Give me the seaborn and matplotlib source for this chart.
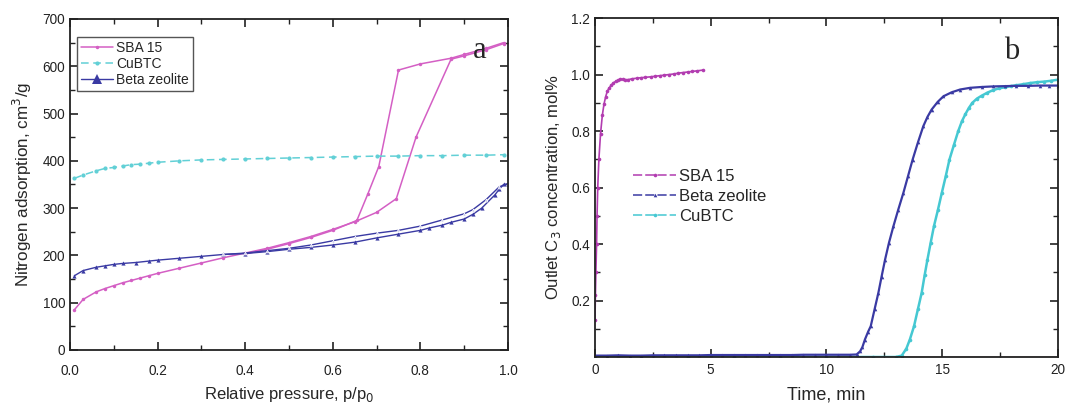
import numpy as np
import pandas as pd
import matplotlib
matplotlib.use("Agg")
import matplotlib.pyplot as plt
import seaborn as sns
from matplotlib.ticker import MultipleLocator, FixedLocator

# ---------------- Panel a: N2 isotherms ----------------
sba_ads_p = [0.01, 0.03, 0.06, 0.08, 0.10, 0.12, 0.14, 0.16, 0.18, 0.20, 0.25, 0.30, 0.35,
             0.40, 0.45, 0.50, 0.55, 0.60, 0.65, 0.70, 0.745, 0.79, 0.87, 0.90, 0.95, 0.99]
sba_ads_v = [85, 107, 123, 130, 136, 142, 147, 152, 157, 162, 173, 184, 195,
             205, 215, 227, 240, 255, 271, 291, 320, 450, 615, 622, 635, 648]
sba_des_p = [0.99, 0.95, 0.90, 0.87, 0.80, 0.75, 0.705, 0.68, 0.655, 0.60, 0.55, 0.50, 0.45, 0.40]
sba_des_v = [650, 638, 625, 617, 605, 592, 388, 330, 274, 253, 238, 225, 213, 203]

cubtc_p = [0.01, 0.03, 0.06, 0.08, 0.10, 0.12, 0.14, 0.16, 0.18, 0.20, 0.25, 0.30, 0.35,
           0.40, 0.45, 0.50, 0.55, 0.60, 0.65, 0.70, 0.75, 0.80, 0.85, 0.90, 0.95, 0.99]
cubtc_v = [363, 370, 379, 384, 386, 389, 392, 393, 395, 397, 400, 402, 403,
           404, 405, 406, 407, 408, 409, 410, 410, 411, 411, 412, 412, 413]

beta_ads_p = [0.01, 0.03, 0.06, 0.08, 0.10, 0.12, 0.15, 0.18, 0.20, 0.25, 0.30, 0.35, 0.40,
              0.45, 0.50, 0.55, 0.60, 0.65, 0.70, 0.75, 0.80, 0.82, 0.85, 0.87, 0.90, 0.92,
              0.94, 0.97, 0.98, 0.99, 1.00]
beta_ads_v = [157, 168, 175, 178, 181, 183, 185, 188, 190, 194, 198, 202, 204,
              208, 213, 217, 222, 228, 237, 245, 253, 258, 264, 270, 277, 287,
              300, 328, 340, 350, 350]
beta_des_p = [1.00, 0.98, 0.95, 0.92, 0.90, 0.85, 0.80, 0.75, 0.70, 0.65, 0.60, 0.55,
              0.50, 0.45, 0.40, 0.35]
beta_des_v = [352, 345, 318, 297, 288, 275, 262, 253, 247, 240, 231, 222,
              215, 210, 205, 202]

# ---------------- Panel b: breakthrough curves ----------------
sba_t = [0.0, 0.02, 0.04, 0.07, 0.09, 0.12, 0.17, 0.24, 0.32, 0.39, 0.46, 0.53, 0.6,
         0.7, 0.8, 0.9, 1.0, 1.08, 1.2, 1.3, 1.44, 1.6, 1.8, 2.0, 2.16, 2.4, 2.6, 2.8,
         3.0, 3.2, 3.4, 3.6, 3.8, 4.0, 4.2, 4.4, 4.68]
sba_c = [0.13, 0.22, 0.30, 0.40, 0.50, 0.60, 0.70, 0.79, 0.857, 0.895, 0.921, 0.94,
         0.951, 0.962, 0.971, 0.976, 0.980, 0.984, 0.983, 0.982, 0.982, 0.985, 0.987,
         0.989, 0.99, 0.992, 0.994, 0.996, 0.998, 1.0, 1.002, 1.005, 1.007, 1.009,
         1.011, 1.013, 1.016]

beta_t = [0.0, 0.5, 1.0, 1.5, 2.0, 2.5, 3.0, 3.5, 4.0, 4.5, 5.0, 5.5, 6.0, 6.5, 7.0,
          7.5, 8.0, 8.5, 9.0, 9.5, 10.0, 10.5, 11.0, 11.3, 11.45, 11.55, 11.66, 11.8,
          11.91, 12.08, 12.24, 12.38, 12.53, 12.7, 12.89, 13.1, 13.32, 13.52, 13.72,
          13.95, 14.18, 14.36, 14.54, 14.8, 15.05, 15.4, 15.77, 16.2, 16.7, 17.2, 17.7,
          18.2, 18.7, 19.2, 19.6, 20.0]
beta_c = [0.005, 0.005, 0.006, 0.005, 0.005, 0.006, 0.006, 0.006, 0.006, 0.006, 0.007,
          0.007, 0.007, 0.007, 0.007, 0.007, 0.007, 0.007, 0.008, 0.008, 0.008, 0.008,
          0.008, 0.009, 0.02, 0.035, 0.062, 0.09, 0.109, 0.17, 0.227, 0.285, 0.345,
          0.405, 0.463, 0.522, 0.581, 0.64, 0.699, 0.76, 0.817, 0.85, 0.876, 0.903,
          0.923, 0.937, 0.947, 0.953, 0.956, 0.958, 0.959, 0.96, 0.96, 0.961, 0.961,
          0.961]

cubtc_t = [0.0, 2.0, 4.0, 6.0, 8.0, 10.0, 12.0, 13.0, 13.25, 13.45, 13.6, 13.78, 13.95,
           14.11, 14.24, 14.36, 14.5, 14.64, 14.81, 14.98, 15.15, 15.31, 15.5, 15.69,
           15.85, 16.0, 16.15, 16.3, 16.5, 16.7, 16.95, 17.2, 17.45, 17.7, 17.95, 18.2,
           18.5, 18.8, 19.1, 19.4, 19.7, 20.0]
cubtc_c = [0.0, 0.0, 0.0, 0.0, 0.0, 0.0, 0.0, 0.0, 0.005, 0.03, 0.062, 0.109, 0.17,
           0.227, 0.29, 0.345, 0.405, 0.463, 0.52, 0.581, 0.64, 0.699, 0.75, 0.80,
           0.835, 0.86, 0.882, 0.90, 0.915, 0.925, 0.936, 0.945, 0.951, 0.955, 0.959,
           0.962, 0.966, 0.97, 0.973, 0.975, 0.978, 0.982]

base_t = [13.3, 20.0]
base_c = [0.0, 0.0]

# ---------------- Styling ----------------
sns.set_theme(style="ticks")
plt.rcParams['font.family'] = ['Liberation Sans', 'DejaVu Sans']
plt.rcParams['xtick.direction'] = 'in'
plt.rcParams['ytick.direction'] = 'in'
plt.rcParams['axes.linewidth'] = 1.3

PINK = '#d45fc4'
PURPLE = '#b23cb0'
NAVY = '#3a3aa3'
CYAN = '#45c8d2'
CYAN_L = '#62d0d6'
RED = '#b04848'

fig = plt.figure(figsize=(10.67, 4.04), dpi=100)
ax1 = fig.add_axes([0.0656, 0.1337, 0.4105, 0.8193])
ax2 = fig.add_axes([0.5576, 0.1163, 0.4340, 0.8390])

# Panel a
sns.lineplot(x=sba_ads_p, y=sba_ads_v, sort=False, estimator=None, ax=ax1, color=PINK,
             lw=1.1, marker='o', markersize=2.5, markeredgewidth=0, label='SBA 15')
sns.lineplot(x=sba_des_p, y=sba_des_v, sort=False, estimator=None, ax=ax1, color=PINK,
             lw=1.1, marker='o', markersize=2.5, markeredgewidth=0, legend=False)
sns.lineplot(x=cubtc_p, y=cubtc_v, sort=False, estimator=None, ax=ax1, color=CYAN_L,
             lw=1.1, marker='o', markersize=3, markeredgewidth=0, linestyle=(0, (5, 3)),
             label='CuBTC')
sns.lineplot(x=beta_ads_p, y=beta_ads_v, sort=False, estimator=None, ax=ax1, color=NAVY,
             lw=1.0, marker='^', markersize=3, markeredgewidth=0, label='Beta zeolite')
sns.lineplot(x=beta_des_p, y=beta_des_v, sort=False, estimator=None, ax=ax1, color=NAVY,
             lw=1.0, linestyle='-', marker='^', markersize=2.2, markerfacecolor='#c8c8ec',
             markeredgewidth=0.4, legend=False)

ax1.set_xlim(0, 1.0)
ax1.set_ylim(0, 700)
ax1.xaxis.set_major_locator(MultipleLocator(0.2))
ax1.xaxis.set_minor_locator(MultipleLocator(0.1))
ax1.yaxis.set_major_locator(MultipleLocator(100))
ax1.yaxis.set_minor_locator(MultipleLocator(50))
ax1.set_xticks([0, 0.2, 0.4, 0.6, 0.8, 1.0])
ax1.set_xticklabels(['0.0', '0.2', '0.4', '0.6', '0.8', '1.0'])
ax1.set_xlabel('Relative pressure, p/p$_0$', fontsize=12, labelpad=5)
ax1.set_ylabel('Nitrogen adsorption, cm$^3$/g', fontsize=12.3, labelpad=6)
leg1 = ax1.legend(loc='upper left', bbox_to_anchor=(0.01, 0.955), fontsize=10,
                  frameon=True, fancybox=False, edgecolor='#555555', framealpha=1,
                  handlelength=2.3, handletextpad=0.2, borderpad=0.3, labelspacing=0.15,
                  borderaxespad=0.2)
leg1.get_frame().set_linewidth(1.0)
for h in leg1.legend_handles:
    if h.get_label() == 'Beta zeolite':
        h.set_markersize(7)
ax1.text(0.935, 0.905, 'a', transform=ax1.transAxes, fontsize=22,
         family=['Liberation Serif', 'DejaVu Serif'], ha='center', va='center')

# Panel b
sns.lineplot(x=base_t, y=base_c, sort=False, estimator=None, ax=ax2, color=RED, lw=1.0,
             legend=False)
sns.lineplot(x=cubtc_t, y=cubtc_c, sort=False, estimator=None, ax=ax2, color=CYAN,
             lw=1.8, marker='o', markersize=2.6, markeredgewidth=0, label='CuBTC')
sns.lineplot(x=beta_t, y=beta_c, sort=False, estimator=None, ax=ax2, color=NAVY,
             lw=1.6, marker='^', markersize=2.6, markeredgewidth=0, label='Beta zeolite')
sns.lineplot(x=sba_t, y=sba_c, sort=False, estimator=None, ax=ax2, color=PURPLE,
             lw=1.2, marker='o', markersize=2.6, markeredgewidth=0, label='SBA 15')

ax2.set_xlim(0, 20)
ax2.set_ylim(0, 1.2)
ax2.xaxis.set_major_locator(MultipleLocator(5))
ax2.xaxis.set_minor_locator(MultipleLocator(2.5))
ax2.yaxis.set_major_locator(FixedLocator([0.2, 0.4, 0.6, 0.8, 1.0, 1.2]))
ax2.yaxis.set_minor_locator(FixedLocator([0.1, 0.3, 0.5, 0.7, 0.9, 1.1]))
ax2.set_yticklabels(['0.2', '0.4', '0.6', '0.8', '1.0', '1.2'])
ax2.set_xlabel('Time, min', fontsize=13, labelpad=7)
ax2.set_ylabel('Outlet C$_3$ concentration, mol%', fontsize=12, labelpad=6)
handles, labels = ax2.get_legend_handles_labels()
order = [labels.index('SBA 15'), labels.index('Beta zeolite'), labels.index('CuBTC')]
leg2 = ax2.legend([handles[i] for i in order], [labels[i] for i in order],
                  loc='upper left', bbox_to_anchor=(0.05, 0.6), fontsize=12,
                  frameon=False, handlelength=2.6, handletextpad=0.15, labelspacing=0.3)
for h in leg2.legend_handles:
    h.set_linestyle((0, (6, 2)))
    h.set_linewidth(1.1)
ax2.text(0.9, 0.9, 'b', transform=ax2.transAxes, fontsize=22,
         family=['Liberation Serif', 'DejaVu Serif'], ha='center', va='center')

for ax in (ax1, ax2):
    ax.tick_params(which='both', top=True, right=True, direction='in', labelsize=9.8,
                   colors='#222222')
    ax.tick_params(which='major', length=6, width=1.2)
    ax.tick_params(which='minor', length=3.5, width=1.0)
    for s in ax.spines.values():
        s.set_color('#222222')
ax1.tick_params(axis='x', which='major', pad=10)
ax2.tick_params(axis='x', which='major', pad=4.5)

fig.savefig('out.png', dpi=100)
